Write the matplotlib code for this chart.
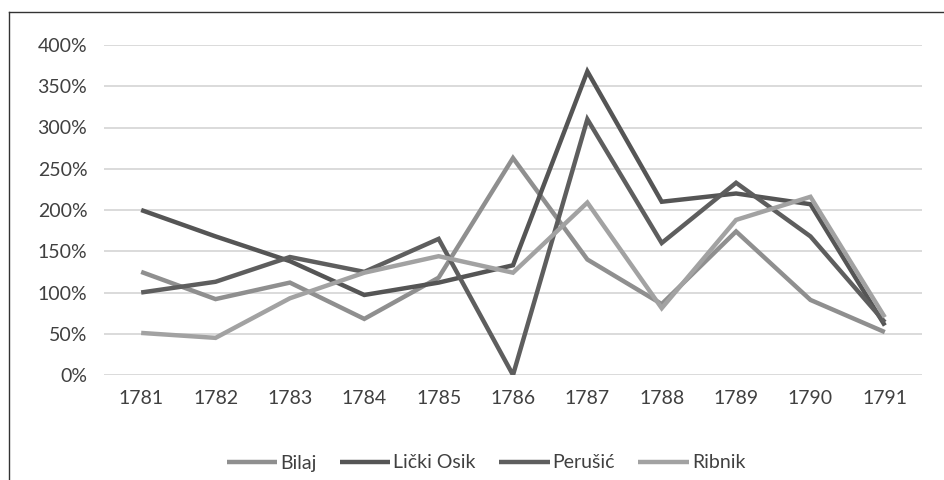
import matplotlib.pyplot as plt
from matplotlib.lines import Line2D
from matplotlib.ticker import FuncFormatter

plt.rcParams['font.family'] = ['Lato', 'DejaVu Sans']

years = ['1781', '1782', '1783', '1784', '1785', '1786', '1787', '1788', '1789', '1790', '1791']
bilaj = [125, 92, 112, 68, 118, 263, 140, 86, 174, 91, 52]
licki_osik = [200, 168, 138, 97, 112, 133, 368, 210, 220, 207, 60]
perusic = [100, 113, 143, 125, 165, 0, 310, 160, 233, 168, 64]
ribnik = [51, 45, 93, 124, 144, 124, 209, 81, 188, 216, 70]

series = [('Bilaj', bilaj, '#8f8f8f'),
          ('Lički Osik', licki_osik, '#555555'),
          ('Perušić', perusic, '#5e5e5e'),
          ('Ribnik', ribnik, '#a2a2a2')]

text_col = '#404040'

fig = plt.figure(figsize=(9.45, 4.8), dpi=100)
ax = fig.add_axes([104 / 945, 1 - 375 / 480, (922 - 104) / 945, (375 - 45) / 480])

x = list(range(len(years)))
for name, vals, col in series:
    ax.plot(x, [v / 100 for v in vals], color=col, lw=3.2, label=name,
            solid_joinstyle='miter', solid_capstyle='butt', zorder=3)

ax.set_xlim(-0.5, len(years) - 0.5)
ax.set_ylim(0, 4)
ax.set_yticks([i * 0.5 for i in range(9)])
ax.yaxis.set_major_formatter(FuncFormatter(lambda v, p: f'{v * 100:.0f}%'))
ax.set_xticks(x)
ax.set_xticklabels(years)
ax.grid(axis='y', color='#d4d4d4', lw=1.2, zorder=0)
ax.set_axisbelow(True)
for s in ax.spines.values():
    s.set_visible(False)
ax.tick_params(axis='both', length=0, labelsize=14, labelcolor=text_col)
ax.tick_params(axis='y', pad=12)
ax.tick_params(axis='x', pad=11)

leg = fig.legend(loc='center', bbox_to_anchor=(486 / 945, 1 - 463 / 480), ncol=4,
                 frameon=False, fontsize=14, handlelength=2.6, handletextpad=0.15,
                 columnspacing=1.2, labelcolor=text_col)

# outer chart frame (only left and top edges visible in the crop)
fig.add_artist(Line2D([9 / 945, 9 / 945], [0, 1 - 12 / 480], transform=fig.transFigure,
                      color='#333333', lw=1))
fig.add_artist(Line2D([9 / 945, 1], [1 - 12 / 480, 1 - 12 / 480], transform=fig.transFigure,
                      color='#333333', lw=1))

fig.savefig('out.png', dpi=100)
